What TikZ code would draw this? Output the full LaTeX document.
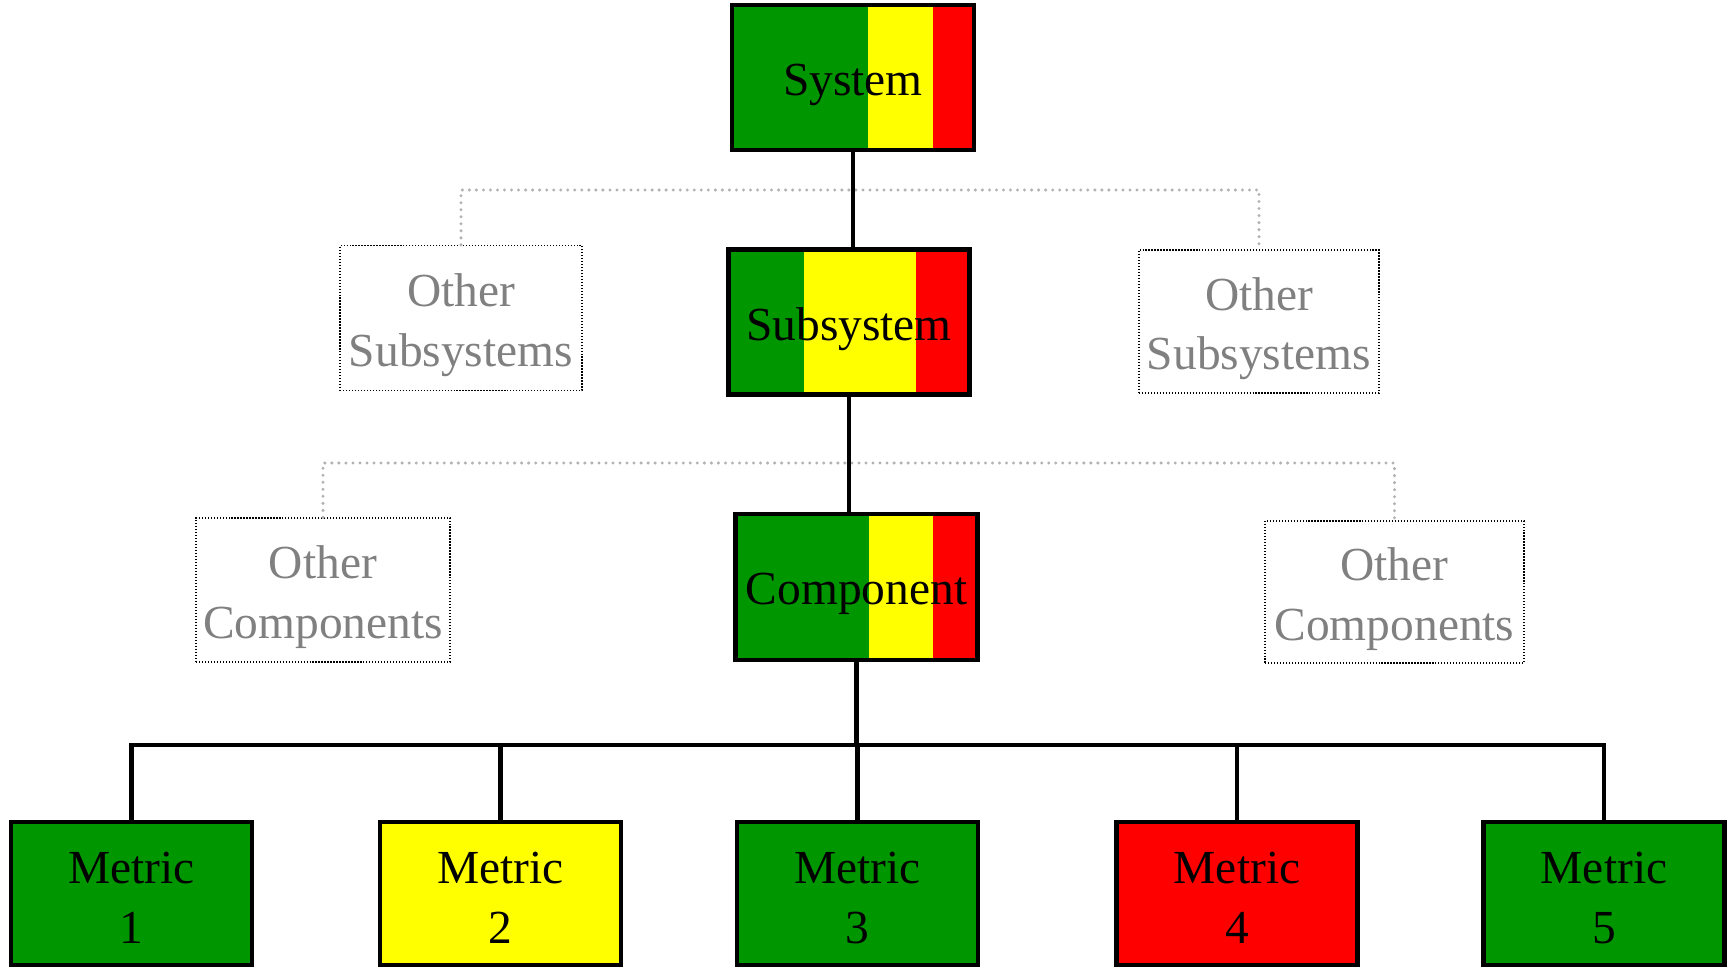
\documentclass[tikz,border=0pt]{standalone}
\usepackage{fontspec}
\setmainfont{Liberation Serif}
\usetikzlibrary{calc}
\definecolor{mgreen}{RGB}{0,150,0}
\definecolor{myellow}{RGB}{255,255,0}
\definecolor{mred}{RGB}{255,0,0}
\tikzset{
  lbl/.style={font=\fontsize{27}{34}\selectfont, align=center, inner sep=0pt},
  glbl/.style={lbl, text=black!50},
  solidbox/.style={draw=black, line width=2.6pt, inner sep=0pt, minimum width=241*0.02cm, minimum height=143*0.02cm},
  metricbox/.style={solidbox, fill=#1},
  tribox/.style n args={2}{solidbox,
    path picture={
      \fill[mgreen] (path picture bounding box.south west) rectangle ($(path picture bounding box.north west)!#1!(path picture bounding box.north east)$);
      \fill[myellow] ($(path picture bounding box.south west)!#1!(path picture bounding box.south east)$) rectangle ($(path picture bounding box.north west)!#2!(path picture bounding box.north east)$);
      \fill[mred] ($(path picture bounding box.south west)!#2!(path picture bounding box.south east)$) rectangle (path picture bounding box.north east);
    }},
  otherbox/.style={draw=black, inner sep=0pt, line width=0.7pt, dash pattern=on 0.7pt off 1pt},
  link/.style={draw=black, line width=2.6pt},
  glink/.style={draw=black!30, line width=1.9pt, line cap=round, dash pattern=on 0pt off 4pt},
}
\begin{document}
\begin{tikzpicture}[x=0.02cm,y=-0.02cm]
\useasboundingbox (0,0) rectangle (1732,967);
% main chain
\node[tribox={0.562}{0.83}, minimum width=242*0.02cm, minimum height=145*0.02cm] (sys) at (853,77.5) {};
\node[lbl] (sysT) at ([yshift=-4pt]sys.center) {System};
\node[tribox={0.315}{0.78}, minimum width=241*0.02cm, minimum height=145*0.02cm] (sub) at (849,322) {};
\node[lbl] (subT) at ([yshift=-3.8pt]sub.center) {Subsystem};
\node[tribox={0.55}{0.815}, minimum width=242*0.02cm, minimum height=146*0.02cm] (comp) at (856.5,587) {};
\node[lbl] (compT) at ([yshift=-4pt]comp.center) {Component};
% others
\node[otherbox, minimum width=242*0.02cm, minimum height=145*0.02cm] (os1) at (461,318) {};
\node[glbl] (os1T) at ([yshift=-4pt]os1.center) {Other\\Subsystems};
\node[otherbox, minimum width=240*0.02cm, minimum height=143*0.02cm] (os2) at (1259,321.5) {};
\node[glbl] (os2T) at ([yshift=-4pt]os2.center) {Other\\Subsystems};
\node[otherbox, minimum width=254*0.02cm, minimum height=144*0.02cm] (oc1) at (323,590) {};
\node[glbl] (oc1T) at ([yshift=-4pt]oc1.center) {Other\\Components};
\node[otherbox, minimum width=259*0.02cm, minimum height=142*0.02cm] (oc2) at (1394.5,592) {};
\node[glbl] (oc2T) at ([yshift=-4pt]oc2.center) {Other\\Components};
% metrics
\node[metricbox=mgreen] (m1) at (131.5,893.5) {};
\node[metricbox=myellow] (m2) at (500.5,893.5) {};
\node[metricbox=mgreen] (m3) at (857.5,893.5) {};
\node[metricbox=mred] (m4) at (1237,893.5) {};
\node[metricbox=mgreen] (m5) at (1604,893.5) {};
\foreach \i in {1,...,5} {\node[lbl] (m\i T) at ([yshift=-2.5pt]m\i.center) {Metric\\\i};}
% bus coordinates
\coordinate (gbus1) at (853,190);
\coordinate (gbus2) at (850,463);
\coordinate (bus) at (856,745);
% gray dotted links
\draw[glink] (os1.north) |- (gbus1) -| (os2.north);
\draw[glink] (oc1.north) |- (gbus2) -| (oc2.north);
% solid links
\draw[link] (sys.south) -- (sys.south |- sub.north);
\draw[link] (sub.south) -- (sub.south |- comp.north);
\draw[link] (comp.south) -- (comp.south |- bus);
\draw[link] (m1.north) -- (m1.north |- bus) -- (m5.north |- bus) -- (m5.north);
\draw[link] (m2.north) -- (m2.north |- bus);
\draw[link] (m3.north) -- (m3.north |- bus);
\draw[link] (m4.north) -- (m4.north |- bus);
\end{tikzpicture}
\end{document}
